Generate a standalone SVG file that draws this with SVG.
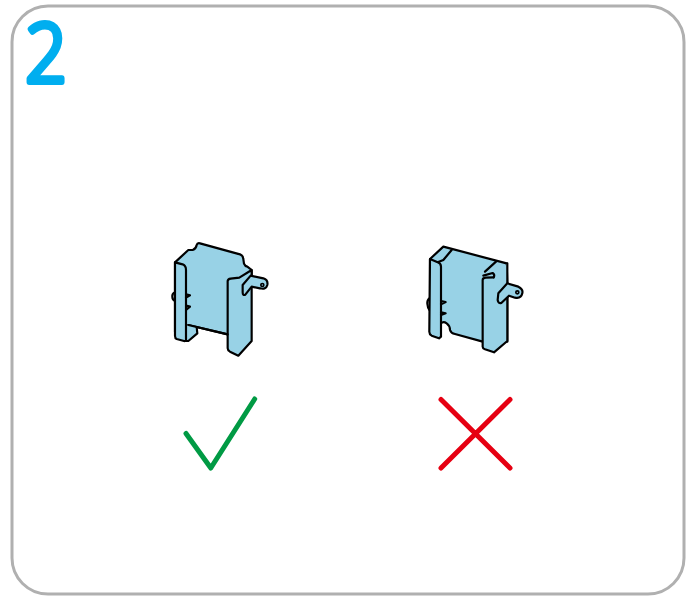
<svg xmlns="http://www.w3.org/2000/svg" width="696" height="596" viewBox="0 0 696 596">
<style>
.p{fill:#98d2e6;stroke:#000;stroke-width:6.500;stroke-linejoin:round;stroke-linecap:round}
.l{fill:none;stroke:#000;stroke-width:6.500;stroke-linejoin:round;stroke-linecap:round}
.m{fill:none;stroke-width:5;stroke-linecap:round;stroke-linejoin:round}
</style>
<rect id="frame" x="12" y="6" width="672" height="588" rx="36" fill="#fff" stroke="#b0b0b0" stroke-width="3"/>
<text id="step" transform="translate(46 82) scale(.9 1)" text-anchor="middle" font-family="'Open Sans',sans-serif" font-weight="300" font-size="81" fill="#00aeef" stroke="#00aeef" stroke-width="6" stroke-linejoin="round">2</text>
<g id="bracket-correct" transform="translate(160 235) scale(.3333)">
<path class="l" d="M45 172Q36 176 37 185Q37 194 45 198"/>
<path class="p" d="M45 82L85 45L98 45Q108 42 110 30Q112 23 120 25L240 58Q250 62 250 72L252 86Q255 94 262 95L275 105L275 150L203 298L85 270L78 280L45 290Z"/>
<path d="M78 270L110 276L112 295L85 318L78 318Z" fill="#98d2e6"/>
<path class="l" d="M110 276L112 295L85 318L78 318"/>
<path class="p" d="M45 82L68 88Q78 92 78 105L78 315Q77 319 72 318L50 312Q45 310 45 302Z"/>
<path class="p" d="M203 138Q204 132 212 131L238 128L275 105L275 318L235 362L210 350Q203 346 203 340Z"/>
<path class="p" d="M272 122L310 130Q325 135 322 150Q318 165 300 160L275 155L256 179Q248 183 248 172L248 150Z"/>
<circle cx="307" cy="150" r="4.500" fill="#98d2e6" stroke="#000" stroke-width="5"/>
<path class="l" d="M85 270L203 298M78 178L90 181L78 188M78 212L90 215L78 225"/>
</g>
<g id="bracket-wrong" transform="translate(415 235) scale(.3333)">
<path class="l" d="M43 190Q36 196 37 206Q38 218 43 225"/>
<path class="p" d="M45 72L85 35L275 85L277 145L277 320L203 320L120 297Q108 295 105 285Q105 272 95 265Q85 258 78 265L45 290Z"/>
<path class="l" d="M85 75L110 45M68 82L85 75M210 110L243 80"/>
<path class="p" d="M45 72L68 82Q78 85 78 95L78 305L72 310L50 302Q43 298 43 290Z"/>
<path class="p" d="M236 127L212 128Q203 129 203 135L203 335Q203 340 210 343L237 352L277 318L277 85"/>
<path class="l" d="M205 122L233 114Q241 119 236 127"/>
<path class="p" d="M277 145L310 155Q325 162 322 175Q318 192 300 188L282 182L259 204Q250 207 248 195L250 175Z"/>
<circle cx="307" cy="172" r="4.500" fill="#98d2e6" stroke="#000" stroke-width="5"/>
<path class="l" d="M78 198L92 201L78 208M78 232L92 235L78 240"/>
</g>
<g id="check-mark"><path class="m" stroke="#009a44" d="M186 433.500L210.800 468L254.700 399"/></g>
<g id="cross-mark"><path class="m" stroke="#e60012" d="M441 399.500L510 468M510 399.500L441 468"/></g>
</svg>
